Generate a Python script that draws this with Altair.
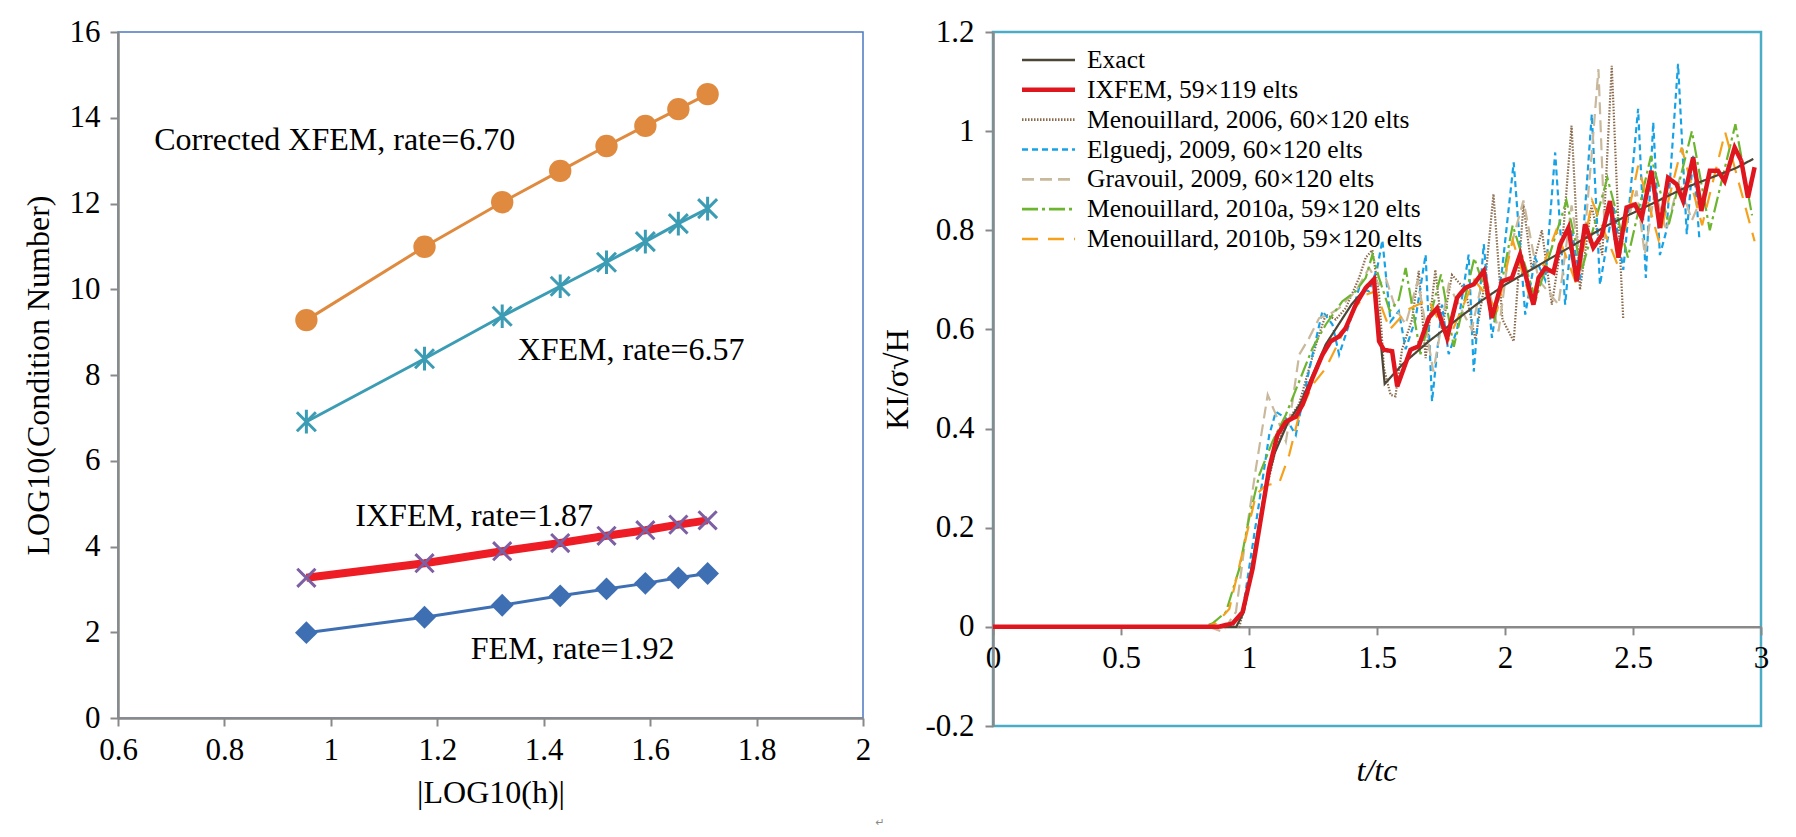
import altair as alt
import pandas as pd

FONT = "Liberation Serif"
GRAY = "#898989"

# ---------------- Left panel data ----------------
h_log = [0.954, 1.176, 1.322, 1.431, 1.518, 1.591, 1.653, 1.708]
cond_corrected_xfem = [9.28, 10.99, 12.03, 12.76, 13.34, 13.81, 14.2, 14.55]
cond_xfem = [6.91, 8.38, 9.37, 10.07, 10.63, 11.11, 11.53, 11.88]
cond_ixfem = [3.27, 3.61, 3.89, 4.08, 4.25, 4.38, 4.51, 4.61]
cond_fem = [1.99, 2.35, 2.63, 2.85, 3.01, 3.14, 3.27, 3.37]
left_x_ticks = [0.6, 0.8, 1.0, 1.2, 1.4, 1.6, 1.8, 2.0]
left_y_ticks = [0, 2, 4, 6, 8, 10, 12, 14, 16]
annot_labels = ["Corrected XFEM, rate=6.70", "XFEM, rate=6.57", "IXFEM, rate=1.87", "FEM, rate=1.92"]
annot_x = [0.668, 1.351, 1.046, 1.263]
annot_y = [13.47, 8.58, 4.72, 1.62]

# ---------------- Right panel data ----------------
series_order = ["Exact", "IXFEM, 59×119 elts", "Menouillard, 2006, 60×120 elts",
                "Elguedj, 2009, 60×120 elts", "Gravouil, 2009, 60×120 elts",
                "Menouillard, 2010a, 59×120 elts", "Menouillard, 2010b, 59×120 elts"]

t_exact = [0, 0.95, 0.98, 1.0, 1.03, 1.06, 1.1, 1.15, 1.2, 1.25, 1.3, 1.35, 1.4, 1.45, 1.49, 1.51,
           1.53, 1.6, 1.7, 1.8, 1.9, 2.0, 2.1, 2.2, 2.3, 2.4, 2.5, 2.6, 2.7, 2.8, 2.9, 2.97]
k_exact = [0, 0, 0.03, 0.09, 0.18, 0.27, 0.35, 0.41, 0.45, 0.51, 0.57, 0.61, 0.65, 0.68, 0.70, 0.60,
           0.49, 0.53, 0.575, 0.615, 0.655, 0.69, 0.72, 0.75, 0.78, 0.81, 0.835, 0.86, 0.885, 0.905, 0.925, 0.944]

t_ix = [0, 0.88, 0.936, 0.975, 1.014, 1.053, 1.079, 1.111, 1.144, 1.183,
        1.209, 1.248, 1.287, 1.319, 1.352, 1.378, 1.417, 1.456, 1.488, 1.508,
        1.527, 1.559, 1.579, 1.605, 1.631, 1.663, 1.702, 1.735, 1.774, 1.813,
        1.845, 1.878, 1.917, 1.949, 1.988, 2.027, 2.059, 2.111, 2.131, 2.157,
        2.189, 2.215, 2.248, 2.28, 2.313, 2.345, 2.378, 2.41, 2.443, 2.475,
        2.508, 2.534, 2.572, 2.605, 2.637, 2.67, 2.696, 2.735, 2.767, 2.8,
        2.832, 2.858, 2.897, 2.923, 2.949, 2.975]
k_ix = [0, 0, 0.007, 0.03, 0.117, 0.239, 0.32, 0.387, 0.414, 0.424,
        0.448, 0.502, 0.549, 0.576, 0.586, 0.603, 0.65, 0.684, 0.701, 0.576,
        0.559, 0.556, 0.485, 0.522, 0.559, 0.566, 0.623, 0.643, 0.583, 0.664,
        0.684, 0.691, 0.718, 0.623, 0.697, 0.704, 0.751, 0.65, 0.704, 0.724,
        0.715, 0.771, 0.805, 0.697, 0.812, 0.765, 0.79, 0.859, 0.745, 0.846,
        0.852, 0.825, 0.92, 0.805, 0.906, 0.893, 0.859, 0.947, 0.839, 0.92,
        0.92, 0.899, 0.967, 0.94, 0.866, 0.927]

t_m06 = [0, 0.9, 0.962, 0.988, 1.027, 1.066, 1.105, 1.144, 1.196, 1.235,
         1.274, 1.3, 1.339, 1.378, 1.43, 1.456, 1.482, 1.508, 1.527, 1.553,
         1.572, 1.598, 1.637, 1.663, 1.69, 1.728, 1.754, 1.793, 1.845, 1.884,
         1.923, 1.955, 1.99, 2.034, 2.072, 2.105, 2.144, 2.183, 2.228, 2.26,
         2.293, 2.338, 2.38, 2.417, 2.44, 2.462]
k_m06 = [0, 0, 0, 0.05, 0.165, 0.273, 0.36, 0.41, 0.45, 0.522,
         0.59, 0.63, 0.62, 0.643, 0.704, 0.745, 0.76, 0.67, 0.522, 0.468,
         0.465, 0.56, 0.62, 0.718, 0.542, 0.72, 0.6, 0.71, 0.68, 0.58,
         0.7, 0.873, 0.62, 0.576, 0.852, 0.72, 0.8, 0.65, 0.8, 1.011,
         0.68, 0.85, 0.75, 1.132, 0.85, 0.62]

t_elg = [0, 0.9, 0.936, 0.975, 1.0, 1.04, 1.079, 1.105, 1.144, 1.183,
         1.209, 1.248, 1.287, 1.326, 1.352, 1.391, 1.43, 1.469, 1.501, 1.521,
         1.553, 1.585, 1.612, 1.65, 1.69, 1.715, 1.754, 1.78, 1.813, 1.858,
         1.878, 1.917, 1.949, 1.988, 2.034, 2.079, 2.118, 2.157, 2.196, 2.235,
         2.261, 2.293, 2.339, 2.371, 2.423, 2.462, 2.52, 2.55, 2.579, 2.605,
         2.631, 2.676, 2.71, 2.735, 2.76]
k_elg = [0, 0, 0.004, 0.03, 0.117, 0.252, 0.387, 0.434, 0.421, 0.387,
         0.455, 0.549, 0.637, 0.61, 0.549, 0.61, 0.684, 0.677, 0.724, 0.78,
         0.616, 0.637, 0.56, 0.62, 0.751, 0.455, 0.65, 0.55, 0.6, 0.751,
         0.515, 0.772, 0.583, 0.718, 0.937, 0.63, 0.744, 0.7, 0.957, 0.65,
         0.8, 0.7, 1.034, 0.69, 0.85, 0.72, 1.045, 0.704, 1.018, 0.75,
         0.8, 1.136, 0.792, 0.95, 0.778]

t_grav = [0, 0.845, 0.897, 0.949, 0.988, 1.027, 1.073, 1.105, 1.144, 1.17,
          1.196, 1.235, 1.274, 1.313, 1.352, 1.417, 1.469, 1.508, 1.534, 1.572,
          1.612, 1.66, 1.72, 1.78, 1.87, 1.92, 1.975, 2.014, 2.072, 2.131,
          2.209, 2.26, 2.3, 2.338, 2.365, 2.39, 2.455, 2.514, 2.546, 2.585,
          2.63, 2.68, 2.73, 2.78]
k_grav = [0, 0, -0.01, 0.03, 0.185, 0.32, 0.468, 0.428, 0.374, 0.455,
          0.549, 0.583, 0.623, 0.63, 0.643, 0.677, 0.724, 0.69, 0.704, 0.643,
          0.61, 0.7, 0.515, 0.69, 0.6, 0.72, 0.596, 0.75, 0.86, 0.7,
          0.65, 0.85, 0.72, 0.95, 1.125, 0.785, 0.78, 0.88, 0.751, 0.88,
          0.8, 0.9, 0.82, 0.88]

t_m10a = [0, 0.82, 0.858, 0.91, 0.962, 1.0, 1.04, 1.092, 1.144, 1.196,
          1.248, 1.3, 1.365, 1.417, 1.456, 1.482, 1.508, 1.55, 1.585, 1.612,
          1.67, 1.75, 1.8, 1.88, 1.96, 2.03, 2.12, 2.24, 2.3, 2.4,
          2.48, 2.57, 2.64, 2.73, 2.8, 2.9, 2.965]
k_m10a = [0, 0, 0.007, 0.03, 0.117, 0.218, 0.306, 0.374, 0.428, 0.495,
          0.562, 0.61, 0.657, 0.677, 0.704, 0.751, 0.704, 0.637, 0.66, 0.724,
          0.55, 0.711, 0.565, 0.744, 0.62, 0.81, 0.66, 0.86, 0.72, 0.906,
          0.745, 0.95, 0.812, 1.0, 0.8, 1.014, 0.83]

t_m10b = [0, 0.83, 0.871, 0.923, 0.975, 1.027, 1.066, 1.118, 1.157, 1.196,
          1.248, 1.3, 1.352, 1.404, 1.456, 1.495, 1.55, 1.62, 1.7, 1.78,
          1.88, 1.97, 2.03, 2.1, 2.2, 2.28, 2.34, 2.44, 2.52, 2.6,
          2.69, 2.77, 2.86, 2.975]
k_m10b = [0, 0, 0.007, 0.036, 0.151, 0.266, 0.286, 0.29, 0.347, 0.428,
          0.488, 0.522, 0.576, 0.637, 0.67, 0.677, 0.6, 0.64, 0.66, 0.58,
          0.7, 0.64, 0.78, 0.66, 0.8, 0.69, 0.86, 0.73, 0.93, 0.78,
          0.967, 0.81, 0.998, 0.778]

right_x_ticks = [0, 0.5, 1.0, 1.5, 2.0, 2.5, 3.0]
right_y_ticks = [-0.2, 0, 0.2, 0.4, 0.6, 0.8, 1.0, 1.2]

# ---------------- Left chart ----------------
LW, LH = 745, 686
lx_scale = alt.Scale(domain=[0.6, 2.0], nice=False, zero=False)
ly_scale = alt.Scale(domain=[0, 16], nice=False)
lx_axis = alt.Axis(values=left_x_ticks, format="~g", title="|LOG10(h)|",
                   labelPadding=9, titlePadding=12)
ly_axis = alt.Axis(values=left_y_ticks, format="~g", title="LOG10(Condition Number)",
                   labelPadding=10, titlePadding=14)


def lenc():
    return dict(x=alt.X("x:Q", scale=lx_scale, axis=lx_axis),
                y=alt.Y("y:Q", scale=ly_scale, axis=ly_axis))


def sdf(vals):
    return pd.DataFrame({"x": h_log, "y": vals})


orange, teal, purple, red, blue = "#df8a3e", "#3b9cb4", "#7d5fa3", "#ee1c24", "#3f6fb3"

left_layers = [
    alt.Chart(sdf(cond_corrected_xfem)).mark_line(color=orange, strokeWidth=3).encode(**lenc()),
    alt.Chart(sdf(cond_corrected_xfem)).mark_point(shape="circle", filled=True, size=500,
                                                   color=orange, opacity=1).encode(**lenc()),
    alt.Chart(sdf(cond_xfem)).mark_line(color=teal, strokeWidth=3).encode(**lenc()),
    alt.Chart(sdf(cond_xfem)).mark_point(shape="M-1,-1L1,1M-1,1L1,-1M0,-1.25L0,1.25", filled=False,
                                         size=360, color=teal, strokeWidth=3, opacity=1).encode(**lenc()),
    alt.Chart(sdf(cond_ixfem)).mark_line(color=red, strokeWidth=8).encode(**lenc()),
    alt.Chart(sdf(cond_ixfem)).mark_point(shape="M-1,-1L1,1M-1,1L1,-1", filled=False,
                                          size=330, color=purple, strokeWidth=3, opacity=1).encode(**lenc()),
    alt.Chart(sdf(cond_fem)).mark_line(color=blue, strokeWidth=3).encode(**lenc()),
    alt.Chart(sdf(cond_fem)).mark_point(shape="diamond", filled=True, size=520,
                                        color=blue, opacity=1).encode(**lenc()),
    alt.Chart(pd.DataFrame({"x": annot_x, "y": annot_y, "label": annot_labels})).mark_text(
        align="left", baseline="middle", font=FONT, fontSize=32, color="black").encode(
        text="label:N", **lenc()),
    alt.Chart(pd.DataFrame({"m": ["↵"]})).mark_text(
        font="DejaVu Sans", fontSize=11, color="#8a8a8a").encode(
        text="m:N", x=alt.value(762), y=alt.value(791)),
]
left = alt.layer(*left_layers).properties(
    width=LW, height=LH, view=alt.ViewBackground(stroke="#4a78c2", strokeWidth=1.5))

# ---------------- Right chart ----------------
RW, RH = 768, 694
colors = ["#4d4535", "#e0161f", "#8a6a4b", "#18a2e6", "#c8b89c", "#6cb52e", "#f6a11c"]
dashes = [[1, 0], [1, 0], [1.5, 1.5], [6, 4], [12, 6], [16, 4, 3, 4], [16, 10]]
color_scale = alt.Scale(domain=series_order, range=colors)
dash_scale = alt.Scale(domain=series_order, range=dashes)
width_cond = alt.condition("datum.series == 'IXFEM, 59×119 elts'", alt.value(4.5), alt.value(2.2))

rx_scale = alt.Scale(domain=[0, 3], nice=False, zero=False)
ry_scale = alt.Scale(domain=[-0.2, 1.2], nice=False, zero=False)
zero_offset = -RH * 0.2 / 1.4
rx_axis = alt.Axis(values=right_x_ticks, format="~g", title=None, offset=zero_offset,
                   labelPadding=9)
ry_axis = alt.Axis(values=right_y_ticks, format="~g", title="KI/σ√H",
                   labelExpr="replace(datum.label, '\u2212', '-')",
                   labelPadding=11, titlePadding=10)


def rdf(name, t, k):
    return pd.DataFrame({"series": name, "t": t, "K": k})


others_df = pd.concat([
    rdf(series_order[2], t_m06, k_m06),
    rdf(series_order[3], t_elg, k_elg),
    rdf(series_order[4], t_grav, k_grav),
    rdf(series_order[5], t_m10a, k_m10a),
    rdf(series_order[6], t_m10b, k_m10b),
    rdf(series_order[0], t_exact, k_exact),
], ignore_index=True)
others_df["i"] = range(len(others_df))
ix_df = rdf(series_order[1], t_ix, k_ix)
ix_df["i"] = range(len(ix_df))

lines_a = alt.Chart(others_df).mark_line().encode(
    x=alt.X("t:Q", scale=rx_scale, axis=rx_axis),
    y=alt.Y("K:Q", scale=ry_scale, axis=ry_axis),
    color=alt.Color("series:N", scale=color_scale, legend=None),
    strokeDash=alt.StrokeDash("series:N", scale=dash_scale, legend=None),
    strokeWidth=width_cond,
    order="i:Q",
)
lines_b = alt.Chart(ix_df).mark_line().encode(
    x=alt.X("t:Q", scale=rx_scale, axis=rx_axis),
    y=alt.Y("K:Q", scale=ry_scale, axis=None),
    color=alt.Color("series:N", scale=color_scale, legend=None),
    strokeDash=alt.StrokeDash("series:N", scale=dash_scale, legend=None),
    strokeWidth=width_cond,
    order="i:Q",
)

leg_df = pd.DataFrame({"series": series_order})
leg_y = alt.Y("series:N", scale=alt.Scale(type="point", domain=series_order, range=[28, 207], padding=0),
              axis=None)
leg_rule = alt.Chart(leg_df).mark_rule().encode(
    x=alt.value(29), x2=alt.value(82), y=leg_y,
    color=alt.Color("series:N", scale=color_scale, legend=None),
    strokeDash=alt.StrokeDash("series:N", scale=dash_scale, legend=None),
    strokeWidth=alt.condition("datum.series == 'IXFEM, 59×119 elts'", alt.value(4.5), alt.value(2.6)),
)
leg_text = alt.Chart(leg_df).mark_text(align="left", baseline="middle", font=FONT,
                                       fontSize=25.5, color="black").encode(
    x=alt.value(94), y=leg_y, text="series:N")
xtitle = alt.Chart(pd.DataFrame({"label": ["t/tc"]})).mark_text(
    font=FONT, fontSize=32, fontStyle="italic", color="black", baseline="middle").encode(
    text="label:N", x=alt.value(RW / 2), y=alt.value(739))

right = alt.layer(lines_a, lines_b, leg_rule, leg_text, xtitle).resolve_scale(
    y="independent").properties(
    width=RW, height=RH, view=alt.ViewBackground(stroke="#4bacc6", strokeWidth=2.5))

chart = alt.hconcat(left, right, spacing=-6).properties(
    padding={"left": 21, "top": 14, "right": 5, "bottom": 5}, background="white"
).configure_axis(
    domainColor=GRAY, domainWidth=2.5, tickColor=GRAY, tickWidth=2, tickSize=8, grid=False,
    labelFont=FONT, labelFontSize=31, labelColor="black", titleFont=FONT, titleFontSize=32,
    titleFontWeight="normal", titleColor="black", labelFlush=False, labelOverlap=False,
)

chart.save("out.html", embed_options={"renderer": "svg", "actions": False})
